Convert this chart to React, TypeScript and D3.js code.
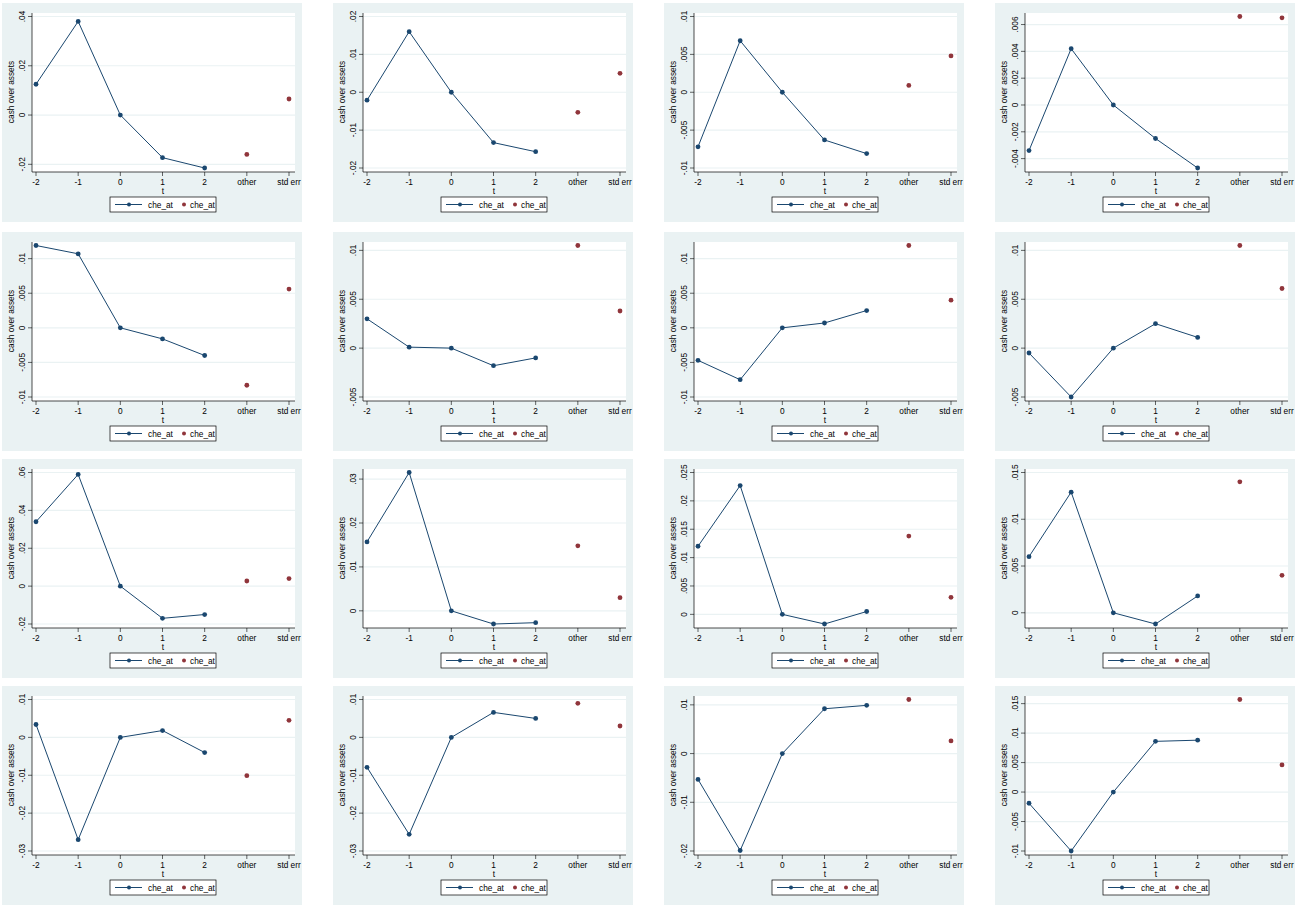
import { useEffect } from 'react';
import * as d3 from 'd3';

const categories = ['-2', '-1', '0', '1', '2', 'other', 'std err'];

// event-time coefficients (-2..2), then "other" and "std err"
const lineValues: number[][] = [
  [0.0125, 0.038, 0, -0.0173, -0.0215],
  [-0.0021, 0.016, 0, -0.0133, -0.0157],
  [-0.0072, 0.0068, 0, -0.0063, -0.0081],
  [-0.0034, 0.0042, 0, -0.0025, -0.0047],
  [0.0119, 0.0107, 0, -0.0016, -0.004],
  [0.003, 0.0001, 0, -0.0018, -0.001],
  [-0.0047, -0.0075, 0, 0.0007, 0.0025],
  [-0.0005, -0.005, 0, 0.0025, 0.0011],
  [0.034, 0.059, 0, -0.017, -0.015],
  [0.0157, 0.0315, 0, -0.003, -0.0027],
  [0.012, 0.0227, 0, -0.0017, 0.0005],
  [0.006, 0.0129, 0, -0.0012, 0.0018],
  [0.0034, -0.027, 0, 0.0018, -0.004],
  [-0.0079, -0.0256, 0, 0.0066, 0.005],
  [-0.0053, -0.0199, 0, 0.0092, 0.0099],
  [-0.0019, -0.01, 0, 0.0086, 0.0088],
];

const otherValues = [-0.016, -0.0053, 0.0009, 0.0066, -0.0083, 0.0105, 0.0119, 0.0105, 0.0027, 0.0148, 0.0138, 0.014, -0.0101, 0.009, 0.0111, 0.0157];
const stdErrValues = [0.0065, 0.005, 0.0048, 0.0065, 0.0056, 0.0038, 0.004, 0.0061, 0.004, 0.003, 0.003, 0.004, 0.0045, 0.003, 0.0026, 0.0046];

const yTicks: number[][] = [
  [-0.02, 0, 0.02, 0.04],
  [-0.02, -0.01, 0, 0.01, 0.02],
  [-0.01, -0.005, 0, 0.005, 0.01],
  [-0.004, -0.002, 0, 0.002, 0.004, 0.006],
  [-0.01, -0.005, 0, 0.005, 0.01],
  [-0.005, 0, 0.005, 0.01],
  [-0.01, -0.005, 0, 0.005, 0.01],
  [-0.005, 0, 0.005, 0.01],
  [-0.02, 0, 0.02, 0.04, 0.06],
  [0, 0.01, 0.02, 0.03],
  [0, 0.005, 0.01, 0.015, 0.02, 0.025],
  [0, 0.005, 0.01, 0.015],
  [-0.03, -0.02, -0.01, 0, 0.01],
  [-0.03, -0.02, -0.01, 0, 0.01],
  [-0.02, -0.01, 0, 0.01],
  [-0.01, -0.005, 0, 0.005, 0.01, 0.015],
];

const colX = [2, 333, 664, 995];
const rowY = [3, 232, 459, 686];
const NAVY = '#1a476f';
const RED = '#90353b';
const BG = '#eaf2f3';
const FS = 8.3;

function fmt(v: number) {
  if (v === 0) return '0';
  const s = String(+v.toFixed(4));
  return s.replace('0.', '.');
}

function Panel({ i }: { i: number }) {
  const line = lineValues[i];
  const all = [...line, otherValues[i], stdErrValues[i], ...yTicks[i]];
  const [lo, hi] = d3.extent(all) as [number, number];
  const y = d3.scaleLinear().domain([lo, hi]).range([165, 13.5]);
  const x = d3.scalePoint<string>().domain(categories).range([34, 287]);
  const path = d3
    .line<number>()
    .x((_, k) => x(categories[k])!)
    .y((d) => y(d))(line) ?? '';
  const font = 'Liberation Sans, Arial, sans-serif';
  return (
    <g transform={`translate(${colX[i % 4]},${rowY[Math.floor(i / 4)]})`} fontFamily={font}>
      <rect width={300} height={219} fill={BG} />
      <rect x={30} y={10} width={263} height={159} fill="#fff" />
      {yTicks[i].map((t) => (
        <g key={t}>
          <line x1={30} x2={293} y1={y(t)} y2={y(t)} stroke={BG} strokeWidth={1.2} />
          <line x1={26} x2={30} y1={y(t)} y2={y(t)} stroke="#000" strokeWidth={0.6} />
          <text transform={`translate(23,${y(t)}) rotate(-90)`} textAnchor="middle" fontSize={FS}>
            {fmt(t)}
          </text>
        </g>
      ))}
      <line x1={30} x2={30} y1={10} y2={169} stroke="#000" strokeWidth={0.7} />
      <line x1={30} x2={293} y1={169} y2={169} stroke="#000" strokeWidth={0.7} />
      {categories.map((c) => (
        <g key={c}>
          <line x1={x(c)} x2={x(c)} y1={169} y2={173} stroke="#000" strokeWidth={0.6} />
          <text x={x(c)} y={182} textAnchor="middle" fontSize={FS}>
            {c}
          </text>
        </g>
      ))}
      <text x={161} y={191} textAnchor="middle" fontSize={FS}>t</text>
      <text transform="translate(12,89) rotate(-90)" textAnchor="middle" fontSize={FS}>
        cash over assets
      </text>
      <path d={path} fill="none" stroke={NAVY} strokeWidth={1} />
      {line.map((v, k) => (
        <circle key={k} cx={x(categories[k])} cy={y(v)} r={2.4} fill={NAVY} />
      ))}
      <circle cx={x('other')} cy={y(otherValues[i])} r={2.4} fill={RED} />
      <circle cx={x('std err')} cy={y(stdErrValues[i])} r={2.4} fill={RED} />
      <rect x={108} y={194} width={106} height={15} fill="#fff" stroke="#000" strokeWidth={0.7} />
      <line x1={113} x2={140} y1={201.5} y2={201.5} stroke={NAVY} strokeWidth={1} />
      <circle cx={127} cy={201.5} r={2} fill={NAVY} />
      <text x={146} y={204.5} fontSize={FS}>che_at</text>
      <circle cx={182} cy={201.5} r={2} fill={RED} />
      <text x={188} y={204.5} fontSize={FS}>che_at</text>
    </g>
  );
}

export default function App() {
  useEffect(() => {
    document.body.style.margin = '0';
  }, []);
  return (
    <svg width={1302} height={908} style={{ display: 'block', background: '#fff' }}>
      {lineValues.map((_, i) => (
        <Panel key={i} i={i} />
      ))}
    </svg>
  );
}
